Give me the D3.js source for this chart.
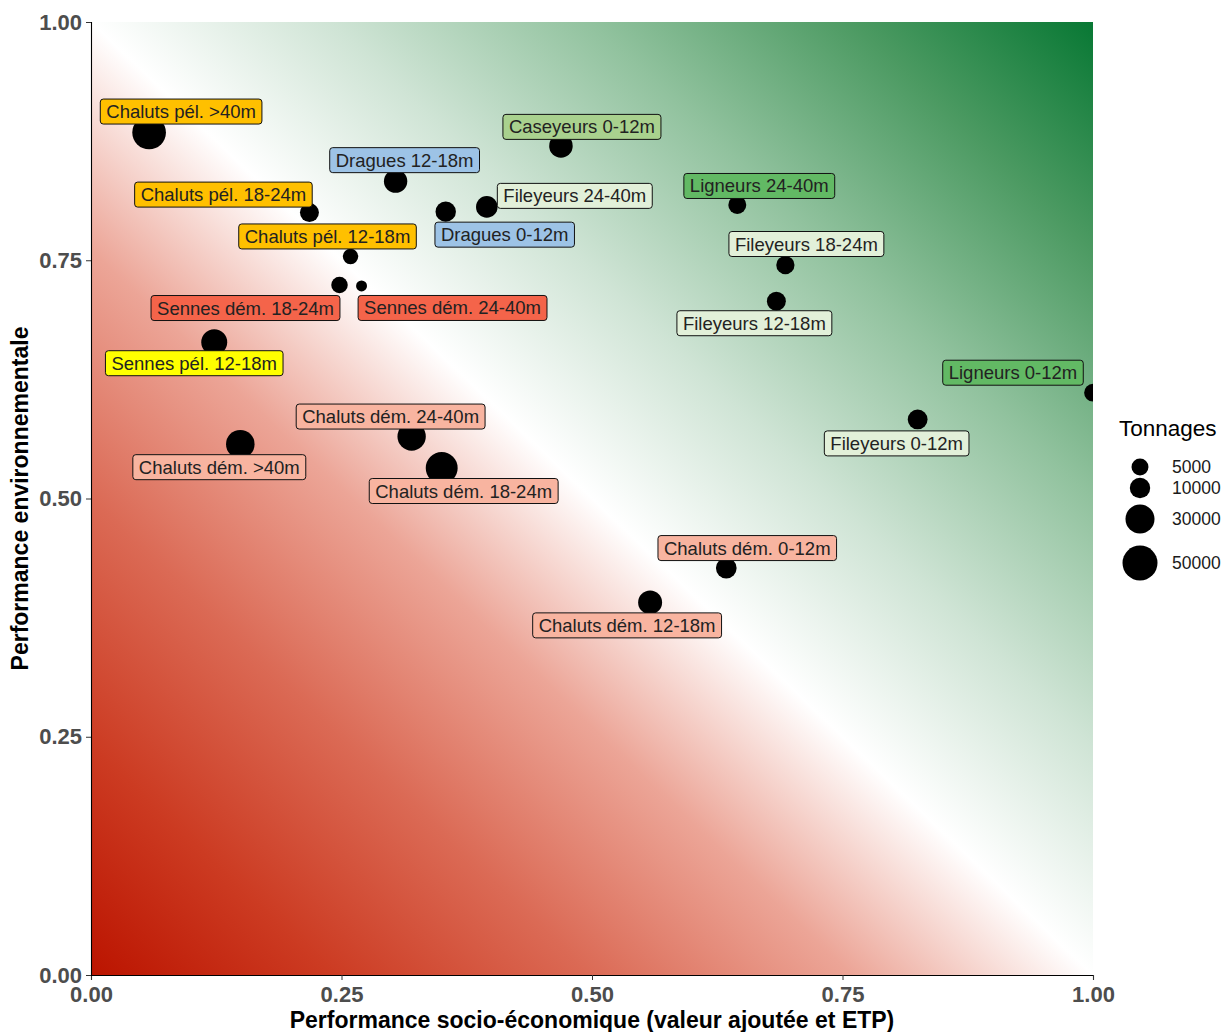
<!DOCTYPE html>
<html>
<head>
<meta charset="utf-8">
<script src="https://cdn.jsdelivr.net/npm/d3@7"></script>
<style>
  html, body { margin: 0; padding: 0; background: #fff; }
  svg { display: block; font-family: "Liberation Sans", Arial, sans-serif; }
</style>
</head>
<body>
<svg id="chart" width="1229" height="1032"></svg>
<script>
// ---- data ----
const fleets = [
  "Chaluts pél. >40m", "Caseyeurs 0-12m", "Dragues 12-18m", "Chaluts pél. 18-24m",
  "Fileyeurs 24-40m", "Ligneurs 24-40m", "Dragues 0-12m", "Chaluts pél. 12-18m",
  "Fileyeurs 18-24m", "Sennes dém. 18-24m", "Sennes dém. 24-40m", "Fileyeurs 12-18m",
  "Sennes pél. 12-18m", "Ligneurs 0-12m", "Chaluts dém. 24-40m", "Fileyeurs 0-12m",
  "Chaluts dém. >40m", "Chaluts dém. 18-24m", "Chaluts dém. 0-12m", "Chaluts dém. 12-18m"
];
const gears = [
  "Chaluts pél.", "Caseyeurs", "Dragues", "Chaluts pél.",
  "Fileyeurs", "Ligneurs", "Dragues", "Chaluts pél.",
  "Fileyeurs", "Sennes dém.", "Sennes dém.", "Fileyeurs",
  "Sennes pél.", "Ligneurs", "Chaluts dém.", "Fileyeurs",
  "Chaluts dém.", "Chaluts dém.", "Chaluts dém.", "Chaluts dém."
];
const perfSocio = [0.058, 0.469, 0.304, 0.218, 0.395, 0.645, 0.354, 0.259, 0.693, 0.248,
                   0.270, 0.684, 0.123, 1.000, 0.320, 0.825, 0.149, 0.350, 0.634, 0.558];
const perfEnv   = [0.884, 0.870, 0.833, 0.800, 0.806, 0.808, 0.801, 0.754, 0.745, 0.724,
                   0.723, 0.707, 0.664, 0.611, 0.565, 0.583, 0.557, 0.532, 0.427, 0.391];
const tonnages  = [45000, 16000, 15600, 7700, 12000, 6300, 10000, 3300, 6700, 4500,
                   400, 7700, 21600, 6000, 28000, 9000, 28500, 39000, 10500, 17000];
const xTicks = [0, 0.25, 0.5, 0.75, 1];
const yTicks = [0, 0.25, 0.5, 0.75, 1];
const legendValues = [5000, 10000, 30000, 50000];

// ---- layout / style (not data) ----
const labelOffsets = [
  [32,-21],[21,-19],[9,-21],[-86,-18],[88,-11],[22,-19],[59,23],[-23,-20],[21,-21],[-94,23],
  [91,22],[-22,22],[-20,21],[-80,-20],[-21,-20],[-21,24],[-21,23],[22,23],[21,-20],[-23,23]
];
const gearFill = {
  "Chaluts pél.": "#FFC000",
  "Caseyeurs": "#A9D18E",
  "Dragues": "#9DC3E6",
  "Fileyeurs": "#E2F0D9",
  "Ligneurs": "#62B964",
  "Sennes dém.": "#F4644A",
  "Sennes pél.": "#FFFF00",
  "Chaluts dém.": "#F8B4A0"
};

const svg = d3.select("#chart");
const L = 91, R = 1093, T = 22, B = 975;
const x = d3.scaleLinear().domain([0, 1]).range([L, R]);
const y = d3.scaleLinear().domain([0, 1]).range([B, T]);
const r = d3.scaleSqrt().domain([0, 50000]).range([4.3, 17.5]);

const defs = svg.append("defs");
const grad = defs.append("linearGradient").attr("id", "bg")
  .attr("x1", 0).attr("y1", 1).attr("x2", 1).attr("y2", 0);
[["0%", "#bb1400"], ["12%", "#cc3b22"], ["25%", "#db6a55"], ["38%", "#eca597"],
 ["50%", "#ffffff"], ["62%", "#cfe4d5"], ["75%", "#91c29e"], ["88%", "#4c9a62"], ["100%", "#087834"]]
  .forEach(([o, c]) => grad.append("stop").attr("offset", o).attr("stop-color", c));
defs.append("clipPath").attr("id", "clip").append("rect")
  .attr("x", L).attr("y", T).attr("width", R - L).attr("height", B - T);

svg.append("rect").attr("x", L).attr("y", T).attr("width", R - L).attr("height", B - T)
  .attr("fill", "url(#bg)");

// points
const idx = d3.range(fleets.length);
svg.append("g").attr("clip-path", "url(#clip)")
  .selectAll("circle").data(idx).join("circle")
  .attr("cx", i => x(perfSocio[i])).attr("cy", i => y(perfEnv[i]))
  .attr("r", i => r(tonnages[i])).attr("fill", "#000");

// labels
const lg = svg.append("g");
idx.forEach(i => {
  const cx = x(perfSocio[i]) + labelOffsets[i][0];
  const cy = y(perfEnv[i]) + labelOffsets[i][1];
  const g = lg.append("g");
  const rect = g.append("rect");
  const t = g.append("text").attr("x", cx).attr("y", cy + 6.5)
    .attr("text-anchor", "middle").attr("font-size", 18.5).attr("fill", "#222")
    .text(fleets[i]);
  const w = t.node().getComputedTextLength();
  rect.attr("x", cx - w / 2 - 6).attr("y", cy - 12.5).attr("width", w + 12).attr("height", 25)
    .attr("rx", 3).attr("ry", 3).attr("fill", gearFill[gears[i]])
    .attr("stroke", "#111").attr("stroke-width", 1);
});

// axes
const xAxis = svg.append("g").attr("transform", `translate(0,${B})`)
  .call(d3.axisBottom(x).tickValues(xTicks).tickFormat(d3.format(".2f")).tickSizeOuter(0).tickSize(5));
const yAxis = svg.append("g").attr("transform", `translate(${L},0)`)
  .call(d3.axisLeft(y).tickValues(yTicks).tickFormat(d3.format(".2f")).tickSizeOuter(0).tickSize(5));
[xAxis, yAxis].forEach(a => {
  a.select(".domain").attr("stroke", "#000").attr("stroke-width", 1.1);
  a.selectAll(".tick line").attr("stroke", "#333");
  a.selectAll(".tick text").attr("fill", "#4d4d4d").attr("font-size", 22)
    .attr("font-weight", "bold").attr("font-family", "Liberation Sans, Arial, sans-serif");
});
xAxis.selectAll(".tick text").attr("dy", "0.85em");
yAxis.selectAll(".tick text").attr("dx", "-1px");

// axis titles
svg.append("text").attr("x", (L + R) / 2).attr("y", 1028).attr("text-anchor", "middle")
  .attr("font-size", 23).attr("font-weight", "bold").attr("fill", "#000")
  .text("Performance socio-économique (valeur ajoutée et ETP)");
svg.append("text").attr("transform", `translate(28,${(T + B) / 2}) rotate(-90)`)
  .attr("text-anchor", "middle").attr("font-size", 23).attr("font-weight", "bold").attr("fill", "#000")
  .text("Performance environnementale");

// legend
const leg = svg.append("g");
leg.append("text").attr("x", 1119).attr("y", 436).attr("font-size", 22.5).attr("fill", "#000").text("Tonnages");
const legY = [467, 488, 519, 563];
legendValues.forEach((v, k) => {
  leg.append("circle").attr("cx", 1140).attr("cy", legY[k]).attr("r", r(v)).attr("fill", "#000");
  leg.append("text").attr("x", 1172).attr("y", legY[k] + 6).attr("font-size", 17.5).attr("fill", "#1a1a1a").text(v);
});
</script>
</body>
</html>
